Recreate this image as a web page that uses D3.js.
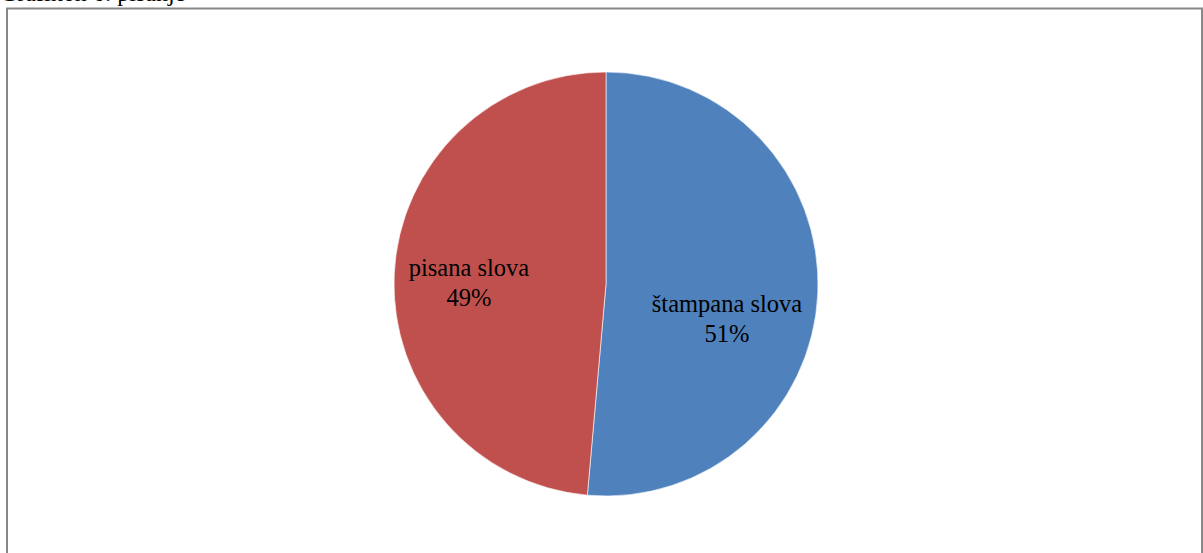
<!DOCTYPE html>
<html><head><meta charset="utf-8">
<script src="https://cdn.jsdelivr.net/npm/d3@7"></script>
<style>html,body{margin:0;padding:0;background:#fff;}svg{display:block;}</style>
</head><body>
<svg id="c" width="1203" height="553"></svg>
<script>
const categories = ["štampana slova", "pisana slova"];
const values = [51.4, 48.6];
const labels = ["51%", "49%"];
const colors = ["#4F81BD", "#C0504D"];
const title = "Grafikon 6: pisanje";

const svg = d3.select("#c");
svg.append("text").attr("x", 0).attr("y", 1)
  .attr("font-family", "Liberation Serif, serif").attr("font-size", 24).attr("fill", "#000")
  .text(title);
svg.append("rect").attr("x", 7).attr("y", 8.5).attr("width", 1195).attr("height", 560)
  .attr("fill", "none").attr("stroke", "#888").attr("stroke-width", 2);

const cx = 606, cy = 284, r = 212;
const pie = d3.pie().sort(null).value(d => d)(values);
const arc = d3.arc().innerRadius(0).outerRadius(r);
const g = svg.append("g").attr("transform", `translate(${cx},${cy})`);
g.selectAll("path").data(pie).join("path")
  .attr("d", arc).attr("fill", (d, i) => colors[i])
  .attr("stroke", "#fff").attr("stroke-width", 0.6);

const labelPos = [[121, 28], [-137, -8]];
pie.forEach((d, i) => {
  const t = g.append("text").attr("text-anchor", "middle")
    .attr("font-family", "Liberation Serif, serif").attr("font-size", 24.5).attr("fill", "#000")
    .attr("transform", `translate(${labelPos[i][0]},${labelPos[i][1]})`);
  t.append("tspan").attr("x", 0).attr("dy", 0).text(categories[i]);
  t.append("tspan").attr("x", 0).attr("dy", 29.5).text(labels[i]);
});
</script>
</body></html>
